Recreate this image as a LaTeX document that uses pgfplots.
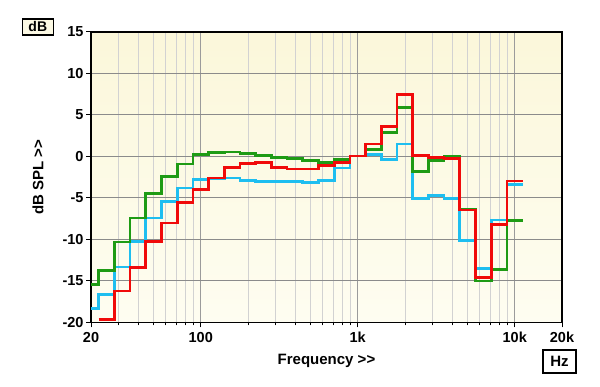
\documentclass[border=0pt]{standalone}
\usepackage{fontspec}
\setmainfont{Liberation Sans}
\usepackage{pgfplots}
\pgfplotsset{compat=1.18}
\usepackage{pgfplotstable}
\definecolor{bgc}{RGB}{252,249,228}
\definecolor{bgl}{RGB}{251,247,218}
\definecolor{bgr}{RGB}{254,253,241}
\definecolor{cgreen}{RGB}{30,155,20}
\definecolor{cblue}{RGB}{30,190,240}
\definecolor{cred}{RGB}{240,10,10}
\definecolor{gmaj}{RGB}{155,155,155}
\definecolor{gmin}{RGB}{210,210,210}

\pgfplotstableread{
f v
20 -15.4
22.39 -13.7
28.18 -10.3
35.48 -7.4
44.67 -4.5
56.23 -2.4
70.79 -0.9
89.13 0.25
112.2 0.45
141.3 0.55
177.8 0.4
223.9 0.15
281.8 -0.1
354.8 -0.25
446.7 -0.45
562.3 -0.7
707.9 -0.4
891.3 0.05
1122 0.87
1413 2.9
1778 5.9
2239 -1.8
2818 -0.5
3548 0.0
4467 -6.4
5623 -15.0
7079 -13.6
8913 -7.7
11220 -7.7
}\greendata

\pgfplotstableread{
f v
20 -18.3
22.39 -16.6
28.18 -13.3
35.48 -10.2
44.67 -7.4
56.23 -5.4
70.79 -3.8
89.13 -2.75
112.2 -2.7
141.3 -2.6
177.8 -2.9
223.9 -3.05
281.8 -3.0
354.8 -3.0
446.7 -3.15
562.3 -2.85
707.9 -1.4
891.3 0.05
1122 0.2
1413 -0.4
1778 1.5
2239 -5.1
2818 -4.7
3548 -5.1
4467 -10.1
5623 -13.5
7079 -7.65
8913 -3.35
11220 -3.35
}\bluedata

\pgfplotstableread{
f v
22.39 -19.6
28.18 -16.2
35.48 -13.4
44.67 -10.2
56.23 -8.0
70.79 -5.55
89.13 -4.0
112.2 -2.6
141.3 -1.35
177.8 -0.85
223.9 -0.72
281.8 -1.35
354.8 -1.5
446.7 -1.5
562.3 -1.1
707.9 -0.7
891.3 0.05
1122 1.5
1413 3.6
1778 7.45
2239 0.1
2818 -0.15
3548 -0.2
4467 -6.45
5623 -14.6
7079 -8.2
8913 -2.95
11220 -2.95
}\reddata

\begin{document}
\begin{tikzpicture}
\begin{axis}[
  at={(91pt,64.5pt)}, anchor=south west,
  scale only axis, width=471pt, height=290.5pt,
  xmode=log, log basis x=10,
  xmin=20, xmax=20000, ymin=-20, ymax=15,
  axis background/.style={top color=bgl, bottom color=bgr},
  xtick={20,100,1000,10000,20000},
  xticklabels={20,100,1k,10k,20k},
  minor xtick={30,40,50,60,70,80,90,200,300,400,500,600,700,800,900,2000,3000,4000,5000,6000,7000,8000,9000},
  ytick={-20,-15,-10,-5,0,5,10,15},
  yticklabels={-20,-15,-10,-5,0,5,10,15},
  xmajorgrids, xminorgrids, ymajorgrids,
  major grid style={draw=gmaj, line width=1pt},
  minor grid style={draw=gmin, line width=1pt},
  y grid style={draw=gmaj!90!black, line width=1pt},
  tick align=outside, xtick pos=bottom, ytick pos=left,
  major tick length=5pt, minor tick length=3pt,
  tick style={black, line width=1pt},
  axis line style={black, line width=1.6pt},
  ticklabel style={font=\fontsize{14.5}{14.5}\selectfont\bfseries},
  xticklabel style={yshift=-1pt},
  yticklabel style={xshift=1pt},
  xlabel={Frequency >{}>},
  ylabel={dB SPL >{}>},
  xlabel style={font=\fontsize{15}{15}\selectfont\bfseries, at={(axis description cs:0.5,-0.146)}, anchor=base},
  ylabel style={font=\fontsize{15}{15}\selectfont\bfseries, at={(axis description cs:-0.1125,0.5)}, anchor=center},
]
\addplot[const plot, cblue, line width=2.7pt] table[x=f,y=v] {\bluedata};
\addplot[const plot, cgreen, line width=2.7pt] table[x=f,y=v] {\greendata};
\addplot[const plot, cred, line width=2.7pt] table[x=f,y=v] {\reddata};
\end{axis}
\node[draw=black, line width=1.4pt, fill=bgc, minimum width=31pt, minimum height=16pt, inner sep=0pt,
      font=\fontsize{14}{14}\selectfont\bfseries] at (37.8pt,360pt) {dB};
\node[draw=black, line width=1.4pt, fill=white, minimum width=33pt, minimum height=23pt, inner sep=0pt,
      font=\fontsize{15}{15}\selectfont\bfseries] at (559.5pt,25.5pt) {Hz};
\pgfresetboundingbox
\path[use as bounding box] (0,0) rectangle (600pt,387pt);
\end{tikzpicture}
\end{document}
